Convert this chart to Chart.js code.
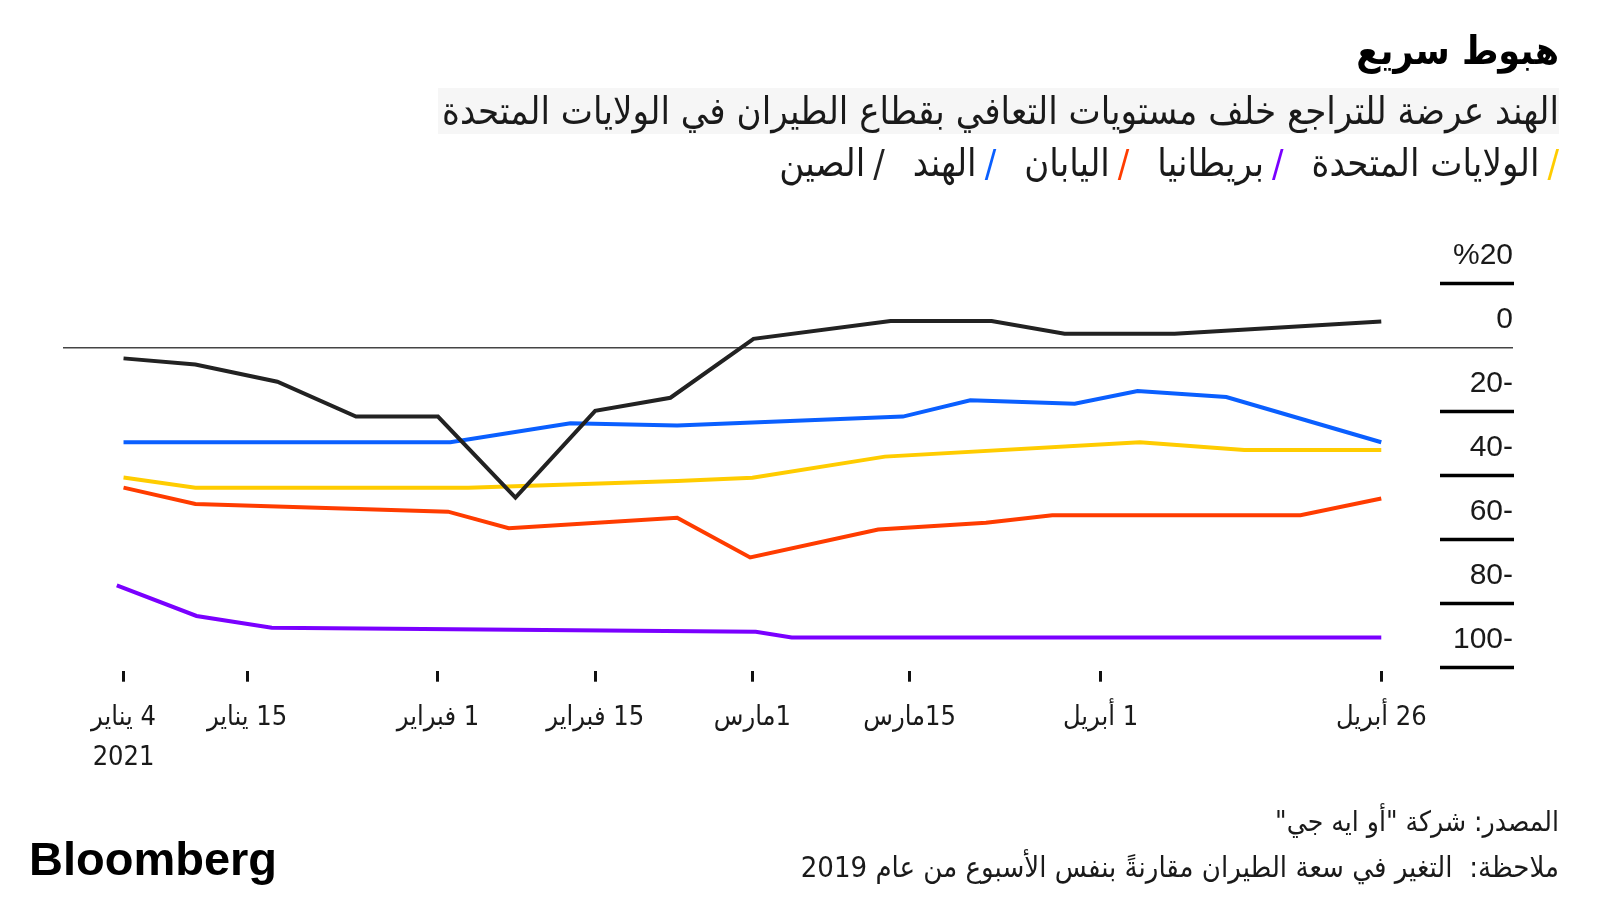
<!DOCTYPE html>
<html><head><meta charset="utf-8">
<script src="https://cdn.jsdelivr.net/npm/chart.js@4.4.1/dist/chart.umd.min.js"></script>
<style>
html,body{margin:0;padding:0;background:#fff;}
#wrap{position:relative;width:1600px;height:900px;overflow:hidden;background:#fff;}
#c{position:absolute;left:0;top:0;}
.t{position:absolute;right:41px;direction:rtl;white-space:pre;font-family:"DejaVu Sans Condensed","DejaVu Sans",sans-serif;color:#1a1a1a;line-height:40px;}
#title{top:28px;font-size:39px;line-height:46px;font-weight:bold;color:#000;}
#sub{top:88px;font-size:38px;line-height:46px;background:#f6f6f6;padding:0 0 0 4px;}
#legend{top:140px;font-size:38px;line-height:46px;}
#legend .it{unicode-bidi:isolate;margin-left:28px;}
#legend .it:last-child{margin-left:0;}
#legend .sl{margin-left:8px;}
#src{top:802px;font-size:28px;}
#note{top:847px;font-size:29px;}
#logo{position:absolute;left:29px;top:834px;line-height:50px;font-family:"Liberation Sans",Arial,sans-serif;font-weight:bold;font-size:47px;letter-spacing:0;color:#000;}
</style></head>
<body>
<div id="wrap">
<canvas id="c" width="1600" height="900"></canvas>
<div class="t" id="title">هبوط سريع</div>
<div class="t" id="sub">الهند عرضة للتراجع خلف مستويات التعافي بقطاع الطيران في الولايات المتحدة</div>
<div class="t" id="legend"></div>
<div class="t" id="src">المصدر: شركة "أو ايه جي"</div>
<div class="t" id="note">ملاحظة:  التغير في سعة الطيران مقارنةً بنفس الأسبوع من عام 2019</div>
<div id="logo">Bloomberg</div>
</div>
<script>
// x = days since 4 Jan 2021
const dayTicks = [0, 11, 28, 42, 56, 70, 87, 112];
const dayTickLabels = [["4 يناير", "2021"], "15 يناير", "1 فبراير", "15 فبراير", "1مارس", "15مارس", "1 أبريل", "26 أبريل"];
const yTicks = [-100, -80, -60, -40, -20, 0, 20];
const yTickLabels = ["100-", "80-", "60-", "40-", "20-", "0", "%20"];

const seriesNames = ["الولايات المتحدة", "بريطانيا", "اليابان", "الهند", "الصين"];
const seriesColors = ["#ffcc00", "#7a00ff", "#ff3c00", "#0a5fff", "#222222"];

const usDays = [0, 6.4, 30.7, 49.3, 56.0, 67.8, 90.5, 99.8, 112];
const usValues = [-40.6, -43.8, -43.8, -41.7, -40.7, -34.1, -29.6, -32, -32];
const ukDays = [-0.6, 6.5, 13.2, 56.3, 59.5, 112];
const ukValues = [-74.3, -83.9, -87.6, -88.8, -90.6, -90.6];
const japanDays = [0, 6.4, 28.9, 34.3, 49.3, 55.8, 67.2, 76.8, 82.7, 104.8, 112];
const japanValues = [-43.8, -48.9, -51.3, -56.5, -53.2, -65.6, -56.9, -54.8, -52.4, -52.4, -47.2];
const indiaDays = [0, 29.1, 39.8, 49.3, 69.4, 75.4, 84.7, 90.3, 98.2, 112];
const indiaValues = [-29.6, -29.6, -23.7, -24.4, -21.6, -16.5, -17.6, -13.6, -15.5, -29.6];
const chinaDays = [0, 6.4, 13.7, 20.7, 28.0, 34.9, 42.0, 48.7, 56.1, 68.3, 77.3, 83.8, 93.6, 112];
const chinaValues = [-3.4, -5.3, -10.7, -21.6, -21.6, -46.9, -19.8, -15.7, 2.7, 8.3, 8.3, 4.3, 4.3, 8.1];

const seriesDays = [usDays, ukDays, japanDays, indiaDays, chinaDays];
const seriesValues = [usValues, ukValues, japanValues, indiaValues, chinaValues];

// legend
const leg = document.getElementById('legend');
seriesNames.forEach((n, i) => {
  const it = document.createElement('span');
  it.className = 'it';
  const sl = document.createElement('span');
  sl.className = 'sl';
  sl.style.color = seriesColors[i];
  sl.textContent = '/';
  it.appendChild(sl);
  it.appendChild(document.createTextNode(n));
  leg.appendChild(it);
});

const rtl = s => '\u202B' + s + '\u202C';

const datasets = seriesNames.map((n, i) => ({
  label: n,
  data: seriesDays[i].map((d, j) => ({x: d, y: seriesValues[i][j]})),
  borderColor: seriesColors[i],
  borderWidth: 4,
  pointRadius: 0,
  tension: 0,
  fill: false,
  borderJoinStyle: 'miter',
  order: i === 4 ? 0 : 5 - i
}));

const underlines = {
  id: 'underlines',
  afterDraw(chart) {
    const y = chart.scales.y, ctx = chart.ctx, r = chart.chartArea.right;
    ctx.save();
    ctx.strokeStyle = '#000';
    ctx.lineWidth = 3.5;
    yTicks.forEach(v => {
      if (v === 0) return;
      const py = y.getPixelForValue(v);
      ctx.beginPath();
      ctx.moveTo(r - 73, py);
      ctx.lineTo(r + 1, py);
      ctx.stroke();
    });
    ctx.restore();
  }
};

new Chart(document.getElementById('c'), {
  type: 'line',
  data: {datasets},
  plugins: [underlines],
  options: {
    responsive: false,
    animation: false,
    devicePixelRatio: 1,
    layout: {padding: {left: 63, right: 87, top: 283.5, bottom: 0}},
    plugins: {legend: {display: false}, tooltip: {enabled: false}},
    scales: {
      x: {
        type: 'linear',
        min: -5.39, max: 123.73,
        afterBuildTicks: s => { s.ticks = dayTicks.map(v => ({value: v})); },
        afterFit: s => { s.height = 229.3; },
        border: {display: false},
        grid: {drawOnChartArea: false, drawTicks: true, tickLength: 11, color: '#111', lineWidth: 3},
        ticks: {
          autoSkip: false, maxRotation: 0, padding: 16,
          color: '#1a1a1a',
          font: {family: "'DejaVu Sans Condensed','DejaVu Sans',sans-serif", size: 27, lineHeight: '40px'},
          callback: (v, i) => {
            const l = dayTickLabels[i];
            return Array.isArray(l) ? l.map(rtl) : rtl(l);
          }
        }
      },
      y: {
        type: 'linear',
        position: 'right',
        min: -101, max: 20,
        afterBuildTicks: s => { s.ticks = yTicks.map(v => ({value: v})); },
        afterFit: s => { s.width = 0; },
        border: {display: false},
        grid: {
          drawTicks: false,
          color: c => (c.tick && c.tick.value === 0) ? '#444' : 'rgba(0,0,0,0)',
          lineWidth: 1.5
        },
        ticks: {
          autoSkip: false, mirror: true, padding: 0, labelOffset: -28,
          color: '#1a1a1a',
          font: {family: "'Liberation Sans',Arial,sans-serif", size: 30},
          callback: (v, i) => yTickLabels[i]
        }
      }
    }
  }
});
</script>
</body></html>
